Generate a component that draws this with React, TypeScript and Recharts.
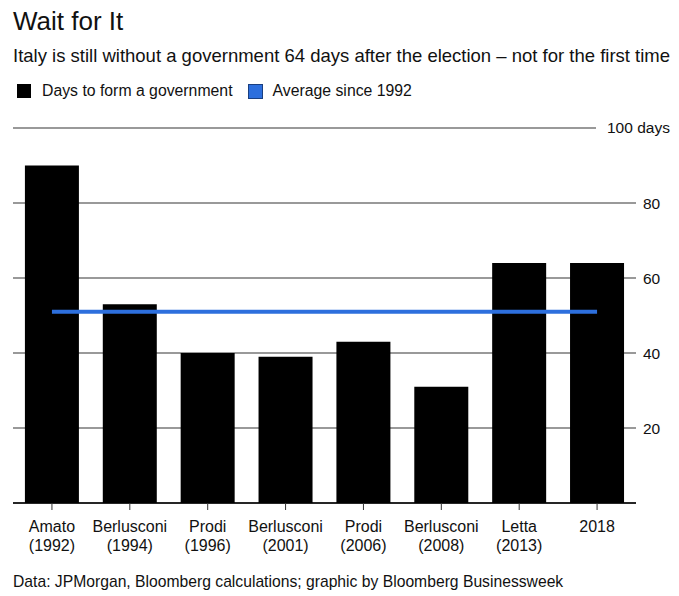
import React from "react";
import { ComposedChart, Bar, Line, XAxis, YAxis, CartesianGrid } from "recharts";

const leaders = ["Amato", "Berlusconi", "Prodi", "Berlusconi", "Prodi", "Berlusconi", "Letta", "2018"];
const years = ["(1992)", "(1994)", "(1996)", "(2001)", "(2006)", "(2008)", "(2013)", ""];
const daysToForm = [90, 53, 40, 39, 43, 31, 64, 64];
const averageSince1992 = [51, 51, 51, 51, 51, 51, 51, 51];
const yTicks = [0, 20, 40, 60, 80, 100];

const data = leaders.map((name, i) => ({
  name,
  year: years[i],
  days: daysToForm[i],
  avg: averageSince1992[i],
}));

const FONT = "'Liberation Sans', Arial, Helvetica, sans-serif";
const BLUE = "#2d6fdd";

const XTick = (props: any) => {
  const { x, y, payload, index } = props;
  const yr = years[index] ?? "";
  return (
    <g transform={`translate(${x},${y})`}>
      <text x={0} y={0} dy={20} textAnchor="middle" fill="#111" fontSize={16} fontFamily={FONT}>
        {payload.value}
      </text>
      {yr ? (
        <text x={0} y={0} dy={38.5} textAnchor="middle" fill="#111" fontSize={16} fontFamily={FONT}>
          {yr}
        </text>
      ) : null}
    </g>
  );
};

const YTick = (props: any) => {
  const { x, y, payload } = props;
  if (payload.value === 0) return null;
  if (payload.value === 100) {
    return (
      <g>
        <rect x={x - 47} y={y - 3} width={60} height={6} fill="#fff" />
        <text x={x - 36} y={y} dy={5} textAnchor="start" fill="#111" fontSize={15.5} fontFamily={FONT}>
          100 days
        </text>
      </g>
    );
  }
  return (
    <text x={x} y={y} dy={5.5} textAnchor="start" fill="#111" fontSize={15.5} fontFamily={FONT}>
      {payload.value}
    </text>
  );
};

export default function App() {
  return (
    <div
      style={{
        position: "absolute",
        left: 0,
        top: 0,
        width: 679,
        height: 596,
        background: "#fff",
        fontFamily: FONT,
        color: "#111",
        overflow: "hidden",
      }}
    >
      <div style={{ position: "absolute", left: 0, top: 0 }}>
        <ComposedChart
          width={679}
          height={596}
          data={data}
          margin={{ top: 128, right: 0, bottom: 43, left: 13 }}
          barCategoryGap="15.3%"
        >
          <CartesianGrid vertical={false} stroke="#777" strokeWidth={1.5} />
          <XAxis
            dataKey="name"
            interval={0}
            axisLine={{ stroke: "#000", strokeWidth: 1.5 }}
            tickLine={{ stroke: "#333", strokeWidth: 1 }}
            tickSize={7}
            height={50}
            tick={<XTick />}
          />
          <YAxis
            orientation="right"
            domain={[0, 100]}
            ticks={yTicks}
            axisLine={false}
            tickLine={false}
            tickSize={0}
            tickMargin={7}
            width={43}
            tick={<YTick />}
          />
          <Bar dataKey="days" fill="#000" isAnimationActive={false} />
          <Line
            dataKey="avg"
            stroke={BLUE}
            strokeWidth={4}
            dot={false}
            activeDot={false}
            isAnimationActive={false}
            type="linear"
          />
        </ComposedChart>
      </div>
      <div style={{ position: "absolute", left: 13, top: 6, fontSize: 26, fontWeight: 400, whiteSpace: "nowrap" }}>
        Wait for It
      </div>
      <div style={{ position: "absolute", left: 13, top: 45, fontSize: 18.5, whiteSpace: "nowrap" }}>
        Italy is still without a government 64 days after the election – not for the first time
      </div>
      <div
        style={{
          position: "absolute",
          left: 17,
          top: 82,
          display: "flex",
          alignItems: "center",
          fontSize: 15.8,
          whiteSpace: "nowrap",
        }}
      >
        <span style={{ display: "inline-block", width: 14, height: 14, background: "#000", marginRight: 11 }} />
        <span style={{ marginRight: 15 }}>Days to form a government</span>
        <span
          style={{
            display: "inline-block",
            width: 13,
            height: 13,
            background: BLUE,
            border: "1px solid #1a3f80",
            marginRight: 10,
          }}
        />
        <span>Average since 1992</span>
      </div>
      <div style={{ position: "absolute", left: 13, top: 573, fontSize: 15.7, whiteSpace: "nowrap" }}>
        Data: JPMorgan, Bloomberg calculations; graphic by Bloomberg Businessweek
      </div>
    </div>
  );
}
